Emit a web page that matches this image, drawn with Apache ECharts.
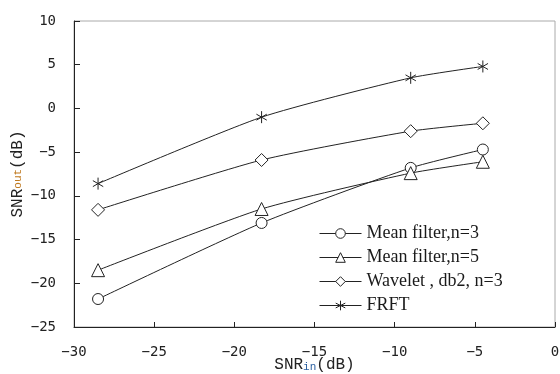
<!DOCTYPE html>
<html>
<head>
<meta charset="utf-8">
<script src="https://cdn.jsdelivr.net/npm/echarts@6/dist/echarts.min.js"></script>
<style>
  html, body { margin: 0; padding: 0; background: #fff; }
  #chart { width: 560px; height: 374px; }
</style>
</head>
<body>
<div id="chart"></div>
<script>
// 输入信噪比 (x)
const snrIn = [-28.5, -18.3, -9, -4.5]
// 各方法输出信噪比
const meanN3 = [-21.8, -13.1, -6.8, -4.7]
const meanN5 = [-18.5, -11.5, -7.4, -6.1]
const wavelet = [-11.6, -5.9, -2.6, -1.7]
const frft = [-8.6, -1.0, 3.5, 4.8]
const seriesNames = ['Mean filter,n=3', 'Mean filter,n=5', 'Wavelet , db2, n=3', 'FRFT']

const starPath = 'path://M0,-10L0,10M-8.66,-5L8.66,5M-8.66,5L8.66,-5'
const fmt = v => String(v).replace('-', '\u2212')

function pairs (ys) {
  return snrIn.map((x, i) => [x, ys[i]])
}

function makeSeries (name, ys, symbol, size) {
  return {
    name: name,
    type: 'line',
    data: pairs(ys),
    smooth: 0.2,
    symbol: symbol,
    symbolSize: size,
    symbolKeepAspect: true,
    showSymbol: true,
    lineStyle: { color: '#222', width: 1 },
    itemStyle: { color: '#fff', borderColor: '#222', borderWidth: 1 },
    emphasis: { disabled: true }
  }
}

const myChart = echarts.init(document.getElementById('chart'))
const option = {
  animation: false,
  grid: {
    left: 74,
    right: 5,
    top: 21,
    bottom: 47,
    outerBoundsMode: 'none',
    containLabel: false,
    show: true,
    borderColor: '#aaa',
    borderWidth: 1
  },
  legend: {
    orient: 'vertical',
    left: 314,
    top: 219,
    itemWidth: 42,
    itemHeight: 12,
    itemGap: 5,
    data: seriesNames,
    itemStyle: { borderWidth: 1 },
    lineStyle: { width: 1 },
    textStyle: { fontFamily: 'Liberation Serif', fontSize: 18, lineHeight: 19, color: '#1a1a1a' }
  },
  xAxis: {
    type: 'value',
    min: -30,
    max: 0,
    interval: 5,
    name: 'SNR{sub|in}(dB)',
    nameLocation: 'middle',
    nameGap: 30,
    nameMoveOverlap: false,
    nameTextStyle: {
      fontFamily: 'Liberation Mono',
      fontSize: 16,
      color: '#222',
      rich: { sub: { fontSize: 11, color: '#2a5fa0', verticalAlign: 'bottom' } }
    },
    splitLine: { show: false },
    axisLine: { onZero: false, lineStyle: { color: '#222', width: 1 } },
    axisTick: { inside: true, length: 5, lineStyle: { color: '#222' } },
    axisLabel: { formatter: fmt, fontFamily: 'DejaVu Sans Mono', fontSize: 14, color: '#222', margin: 18 }
  },
  yAxis: {
    type: 'value',
    min: -25,
    max: 10,
    interval: 5,
    name: 'SNR{sub|out}(dB)',
    nameLocation: 'middle',
    nameGap: 48,
    nameMoveOverlap: false,
    nameRotate: 90,
    nameTextStyle: {
      fontFamily: 'Liberation Mono',
      fontSize: 16,
      color: '#222',
      rich: { sub: { fontSize: 11, color: '#c07a20' } }
    },
    splitLine: { show: false },
    axisLine: { show: true, onZero: false, lineStyle: { color: '#222', width: 1 } },
    axisTick: { show: true, inside: true, length: 6, lineStyle: { color: '#222' } },
    axisLabel: { formatter: fmt, fontFamily: 'DejaVu Sans Mono', fontSize: 14, color: '#222', margin: 18 }
  },
  series: [
    makeSeries(seriesNames[0], meanN3, 'circle', 11),
    makeSeries(seriesNames[1], meanN5, 'triangle', 13),
    makeSeries(seriesNames[2], wavelet, 'diamond', 13),
    makeSeries(seriesNames[3], frft, starPath, 12)
  ]
}
myChart.setOption(option)
</script>
</body>
</html>
